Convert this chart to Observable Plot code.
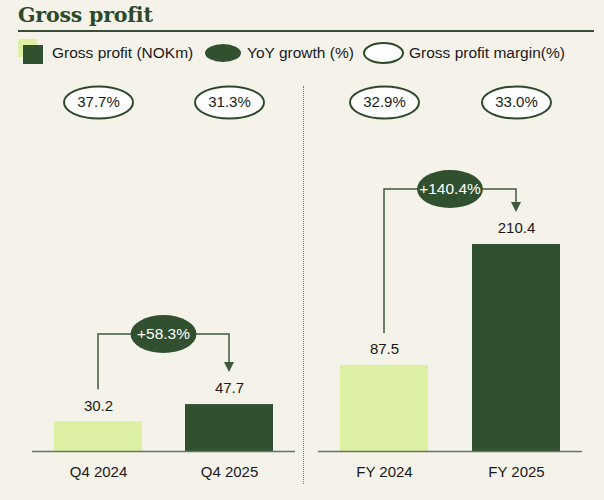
<!DOCTYPE html>
<html>
<head>
<meta charset="utf-8">
<script src="https://cdn.jsdelivr.net/npm/d3@7"></script>
<script src="https://cdn.jsdelivr.net/npm/@observablehq/plot@0.6"></script>
<style>
  html, body { margin: 0; padding: 0; background: #f5f2ea; }
  #page { position: relative; width: 604px; height: 500px; overflow: hidden; font-family: "Liberation Sans", Arial, sans-serif; color: #1a1a1a; }
  .abs { position: absolute; }
  #title { left: 18px; top: 2px; font-family: "DejaVu Serif", Georgia, serif; font-weight: bold; font-size: 20.5px; color: #2c4a2a; line-height: 26px; letter-spacing: -0.2px; }
  #rule { left: 18px; top: 30px; width: 576px; height: 2px; background: #3a4d37; }
  .lg { font-size: 15.5px; line-height: 18px; top: 44px; }
  #divider { left: 303px; top: 86px; height: 398px; border-left: 1px dotted #777; }
  #left { left: 0; top: 75px; }
  #right { left: 303px; top: 75px; }
</style>
</head>
<body>
<div id="page">
  <div id="title" class="abs">Gross profit</div>
  <div id="rule" class="abs"></div>
  <div class="abs" style="left:18px;top:39px;width:19px;height:18px;background:#dcefa3"></div>
  <div class="abs" style="left:23px;top:45px;width:20px;height:19px;background:#30502f"></div>
  <div class="abs lg" style="left:52px">Gross profit (NOKm)</div>
  <div class="abs" style="left:205px;top:44px;width:36px;height:18px;border-radius:50%;background:#30502f"></div>
  <div class="abs lg" style="left:247px">YoY growth (%)</div>
  <div class="abs" style="left:363px;top:42px;width:37px;height:18px;border-radius:50%;background:#fff;border:2px solid #2c4a2a"></div>
  <div class="abs lg" style="left:409px">Gross profit margin(%)</div>
  <div id="divider" class="abs"></div>
  <div id="left" class="abs"></div>
  <div id="right" class="abs"></div>
</div>
<script>
// ---- data ----
const categories = ["Q4 2024", "Q4 2025", "FY 2024", "FY 2025"];
const panels = ["Q4", "Q4", "FY", "FY"];
const years = ["2024", "2025", "2024", "2025"];
const grossProfit = [30.2, 47.7, 87.5, 210.4];
const grossMargin = [37.7, 31.3, 32.9, 33.0];
const panelNames = ["Q4", "FY"];
const yoyGrowth = [58.3, 140.4];

const LIGHT = "#dcefa3", DARK = "#30502f", LINE = "#3d5a3a", TEXT = "#1a1a1a";
const FS = 15;

const rows = categories.map((c, i) => ({
  category: c, panel: panels[i], year: years[i], value: grossProfit[i], margin: grossMargin[i]
}));

// ellipse symbol for Plot.dot (r = vertical radius, k = horizontal/vertical ratio)
function ellipseSymbol(k) {
  const K = 0.5523;
  return {
    draw(ctx, size) {
      const ry = Math.sqrt(size / Math.PI), rx = ry * k;
      ctx.moveTo(rx, 0);
      ctx.bezierCurveTo(rx, ry * K, rx * K, ry, 0, ry);
      ctx.bezierCurveTo(-rx * K, ry, -rx, ry * K, -rx, 0);
      ctx.bezierCurveTo(-rx, -ry * K, -rx * K, -ry, 0, -ry);
      ctx.bezierCurveTo(rx * K, -ry, rx, -ry * K, rx, 0);
      ctx.closePath();
    }
  };
}

function connector(data, growth, rise) {
  return (index, scales) => {
    const x = scales.x, y = scales.y;
    const bw = x.bandwidth ? x.bandwidth() : 0;
    const [a, b] = data;
    const xa = x(a.category) + bw / 2, xb = x(b.category) + bw / 2;
    const ya = y(a.value) - 32, yb = y(b.value) - 32;
    const level = Math.min(y(a.value), y(b.value)) - rise;
    const g = d3.create("svg:g");
    g.append("path")
      .attr("d", `M${xa},${ya}V${level}H${xb}V${yb - 9}`)
      .attr("fill", "none").attr("stroke", LINE).attr("stroke-width", 1.5);
    g.append("path")
      .attr("d", `M${xb - 5},${yb - 10}L${xb + 5},${yb - 10}L${xb},${yb}Z`)
      .attr("fill", LINE);
    g.append("ellipse")
      .attr("cx", (xa + xb) / 2).attr("cy", level).attr("rx", 33).attr("ry", 19)
      .attr("fill", DARK);
    g.append("text")
      .attr("x", (xa + xb) / 2).attr("y", level).attr("dy", "0.35em")
      .attr("text-anchor", "middle").attr("fill", "#fff")
      .attr("font-size", 15.5)
      .text("+" + growth.toFixed(1) + "%");
    return g.node();
  };
}

function panelChart(p, width, marginLeft, marginRight) {
  const data = rows.filter(d => d.panel === p);
  const growth = yoyGrowth[panelNames.indexOf(p)];
  const rise = p === "Q4" ? 70 : 55;
  return Plot.plot({
    width, height: 425,
    marginLeft, marginRight, marginTop: 130, marginBottom: 49,
    style: { background: "transparent", fontFamily: "Liberation Sans, Arial, sans-serif", fontSize: FS + "px", color: TEXT },
    x: { domain: data.map(d => d.category), paddingInner: 0.33, paddingOuter: 0.165, label: null },
    y: { domain: [0, 250], axis: null },
    color: { domain: ["2024", "2025"], range: [LIGHT, DARK] },
    marks: [
      Plot.barY(data, { x: "category", y: "value", fill: "year" }),
      Plot.ruleY([0], { stroke: "#627660", strokeWidth: 1.5 }),
      Plot.axisX({ tickSize: 0, tickPadding: 15, fontSize: FS, fill: TEXT }),
      Plot.text(data, { x: "category", y: "value", text: d => d.value.toFixed(1), dy: -16, lineAnchor: "middle", fontSize: FS, fill: TEXT }),
      Plot.dot(data, { x: "category", frameAnchor: "top", dy: -103, r: 16, symbol: ellipseSymbol(34.5 / 16), fill: "#fff", stroke: "#2c4a2a", strokeWidth: 2 }),
      Plot.text(data, { x: "category", frameAnchor: "top", dy: -103, text: d => d.margin.toFixed(1) + "%", lineAnchor: "middle", fontSize: FS, fill: TEXT }),
      connector(data, growth, rise)
    ]
  });
}

document.getElementById("left").append(panelChart("Q4", 303, 32, 8));
document.getElementById("right").append(panelChart("FY", 301, 15, 22));
</script>
</body>
</html>
